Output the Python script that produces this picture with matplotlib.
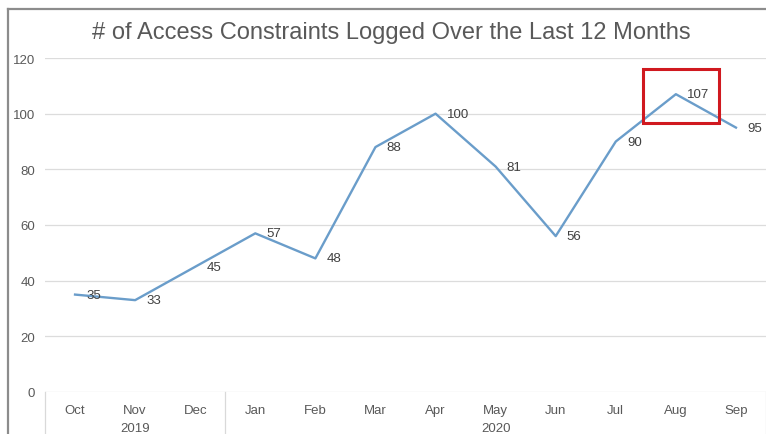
import matplotlib
matplotlib.use("Agg")
import matplotlib.pyplot as plt
from matplotlib.patches import Rectangle

# monthly counts, Oct 2019 .. Sep 2020
months = ["Oct", "Nov", "Dec", "Jan", "Feb", "Mar", "Apr", "May", "Jun", "Jul", "Aug", "Sep"]
counts = [35, 33, 45, 57, 48, 88, 100, 81, 56, 90, 107, 95]
years = ["2019", "2020"]
year_spans = [(0, 2), (3, 11)]          # first / last month index per year
y_ticks = [0, 20, 40, 60, 80, 100, 120]
highlight = 10                           # month in the red box (Aug)

plt.rcParams["font.family"] = ["Liberation Sans", "DejaVu Sans"]
W, H = 766, 435
fig = plt.figure(figsize=(W / 100, H / 100), dpi=100)

# grey frame around the chart
fig.add_artist(plt.Line2D([8 / W, 8 / W], [0, 1 - 10 / H], color="#8c8c8c", lw=1.6))
fig.add_artist(plt.Line2D([8 / W, 1], [1 - 10 / H, 1 - 10 / H], color="#8c8c8c", lw=1.6))

ax = fig.add_axes([45 / W, 42 / H, 721 / W, 334 / H])
x = list(range(len(months)))
ax.plot(x, counts, color="#6a9dca", lw=1.7, zorder=3)
for xi, v in zip(x, counts):
    ax.annotate(str(v), (xi, v), xytext=(8, 0), textcoords="offset points",
                ha="left", va="center", fontsize=9.5, color="#404040", zorder=4)

ax.set_xlim(-0.5, len(months) - 0.5)
ax.set_ylim(0, 120)
ax.set_yticks(y_ticks)
ax.tick_params(axis="y", length=0, pad=7, labelsize=9.5, labelcolor="#595959")
ax.set_xticks(x)
ax.set_xticklabels(months)
ax.tick_params(axis="x", length=0, pad=9, labelsize=9.5, labelcolor="#595959")
ax.grid(axis="y", color="#dcdcdc", lw=0.9)
ax.set_axisbelow(True)
for s in ax.spines.values():
    s.set_visible(False)

# year row under the month labels, with group separators
trans = ax.get_xaxis_transform()
for yr, (a, b) in zip(years, year_spans):
    ax.text((a + b) / 2, -36 / 334, yr, transform=trans, ha="center", va="center",
            fontsize=9.5, color="#595959")
for sep in [-0.5, 2.5, len(months) - 0.5]:
    ax.plot([sep, sep], [0, -42 / 334], transform=trans, color="#d9d9d9",
            lw=0.9, clip_on=False)

# red box around the peak month
ax.add_patch(Rectangle((highlight - 0.54, 96.7), 1.26, 19.4, fill=False,
                       edgecolor="#d0191f", lw=2.2, zorder=5))

fig.text(391 / W, 1 - 33 / H, "# of Access Constraints Logged Over the Last 12 Months",
         ha="center", va="center", fontsize=17, color="#595959")

fig.savefig("out.png", dpi=100)
